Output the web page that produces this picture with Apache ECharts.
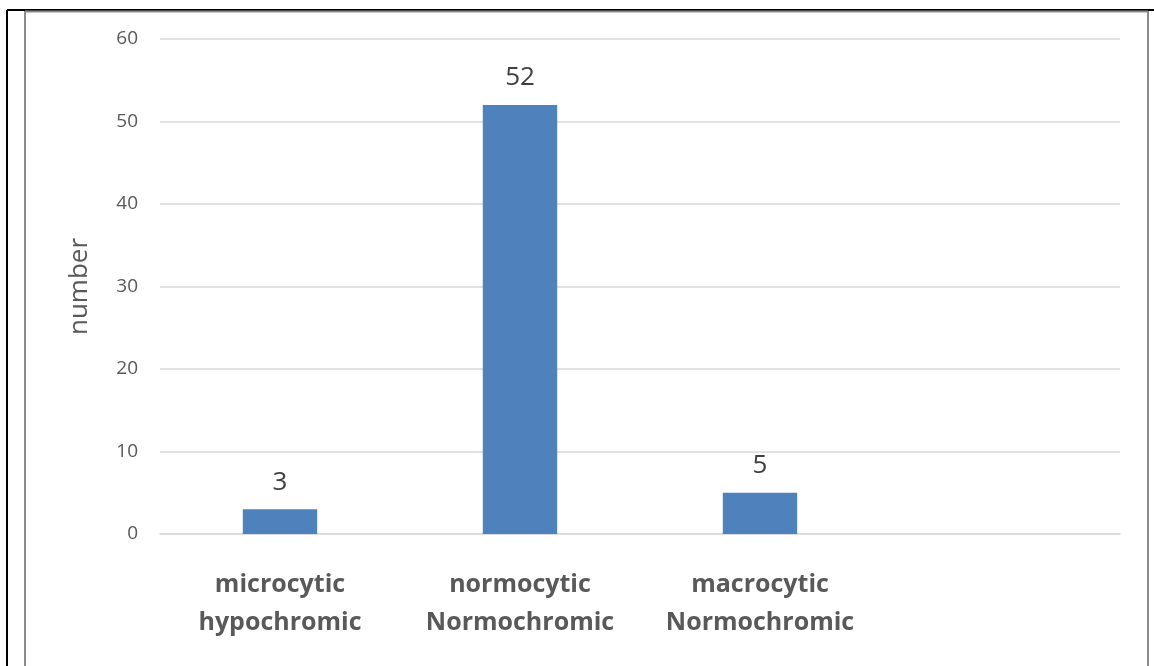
<!DOCTYPE html>
<html>
<head>
<meta charset="utf-8">
<script src="https://cdn.jsdelivr.net/npm/echarts@6/dist/echarts.min.js"></script>
<style>
  html, body { margin: 0; padding: 0; background: #fff; }
  #chart { width: 1154px; height: 666px; }
</style>
</head>
<body>
<div id="chart"></div>
<script>
// Blood picture morphology counts
const categories = ['microcytic\nhypochromic', 'normocytic\nNormochromic', 'macrocytic\nNormochromic', ''];
const counts = [3, 52, 5, null];
const yTicks = { min: 0, max: 60, interval: 10 };

const FONT = '"Open Sans", "Liberation Sans", sans-serif';

const chart = echarts.init(document.getElementById('chart'), null, { renderer: 'canvas' });

chart.setOption({
  backgroundColor: '#ffffff',
  animation: false,
  grid: { left: 160, right: 34, top: 39, bottom: 132, containLabel: false },
  xAxis: {
    type: 'category',
    data: categories,
    axisLine: { show: true, lineStyle: { color: '#d9d9d9', width: 1.5 } },
    axisTick: { show: false },
    axisLabel: {
      interval: 0,
      margin: 32,
      fontFamily: FONT,
      fontSize: 25,
      fontWeight: 'bold',
      color: '#595959',
      lineHeight: 38
    }
  },
  yAxis: {
    type: 'value',
    min: yTicks.min,
    max: yTicks.max,
    interval: yTicks.interval,
    name: 'number',
    nameLocation: 'middle',
    nameGap: 67,
    nameTextStyle: { fontFamily: FONT, fontSize: 26, color: '#595959' },
    axisLine: { show: false },
    axisTick: { show: false },
    axisLabel: { margin: 22, fontFamily: FONT, fontSize: 19, color: '#595959' },
    splitLine: { lineStyle: { color: '#d9d9d9', width: 1.5 } }
  },
  series: [{
    type: 'bar',
    data: counts,
    barWidth: '31%',
    itemStyle: { color: '#4f81bd' },
    label: {
      show: true,
      position: 'top',
      distance: 14,
      fontFamily: FONT,
      fontSize: 26,
      color: '#404040'
    }
  }],
  graphic: [
    // outer black border (top and left)
    { type: 'line', shape: { x1: 7, y1: 10, x2: 1154, y2: 10 }, style: { stroke: '#000', lineWidth: 2 } },
    { type: 'line', shape: { x1: 7, y1: 10, x2: 7, y2: 666 }, style: { stroke: '#000', lineWidth: 2 } },
    // inner grey frame
    { type: 'line', shape: { x1: 25, y1: 11.5, x2: 1148, y2: 11.5 }, style: { stroke: '#8c8c8c', lineWidth: 2 } },
    { type: 'line', shape: { x1: 25, y1: 11, x2: 25, y2: 666 }, style: { stroke: '#8c8c8c', lineWidth: 2 } },
    { type: 'line', shape: { x1: 1148, y1: 11, x2: 1148, y2: 666 }, style: { stroke: '#8c8c8c', lineWidth: 2 } }
  ]
});
</script>
</body>
</html>
